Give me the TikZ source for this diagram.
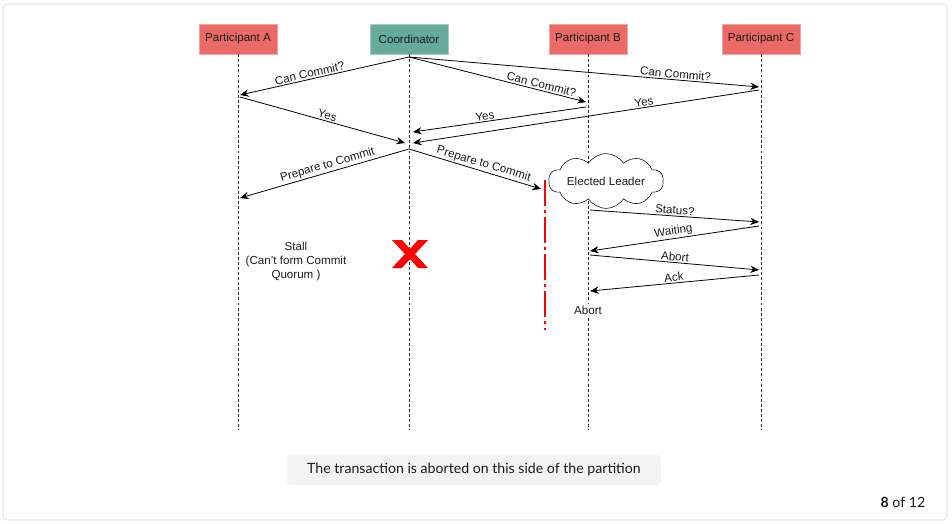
\documentclass[tikz,border=0pt]{standalone}
\usepackage{fontspec}
\setmainfont{Liberation Sans}
\newfontfamily\captionfont{Lato}
\usepackage{tikz}
\usetikzlibrary{positioning,arrows.meta,shapes.symbols}

\definecolor{boxred}{HTML}{EA6B66}
\definecolor{boxgreen}{HTML}{67AB9F}
\definecolor{framegray}{HTML}{D4D4D4}
\definecolor{notegray}{HTML}{F3F3F3}
\definecolor{txt}{HTML}{1A1A1A}

\begin{document}
\begin{tikzpicture}[
        x=0.75pt, y=-0.75pt,
        font=\fontsize{8.7}{10.5}\selectfont, text=txt,
        actor/.style={fill=boxred, draw=boxred!60, minimum width=58.5pt, minimum height=22.5pt, inner sep=0pt},
        lifeline/.style={dash pattern=on 2.2pt off 1.6pt, thin, black!85},
        msg/.style={-{Stealth[length=6.5pt, width=5.5pt]}, semithick},
        lbl/.style={sloped, above, inner sep=1pt},
        partition/.style={red, line width=2.2pt, dash pattern=on 19.5pt off 3pt on 2.25pt off 3pt}
    ]
    \useasboundingbox (0,0) rectangle (952,524);

    % frame of the slide
    \draw[framegray, rounded corners=3pt] (3,4) rectangle (947,520);

    % participants
    \node[actor] (pa) at (238,39) {Participant A};
    \node[actor, fill=boxgreen, draw=boxgreen!60] (co) at (409,39) {Coordinator};
    \node[actor] (pb) at (588,39) {Participant B};
    \node[actor] (pc) at (761,39) {Participant C};

    % lifelines
    \foreach \p/\x in {pa/238, co/409, pb/588, pc/761} {
        \coordinate (\p end) at (\x,430);
        \draw[lifeline] (\p.south) -- (\p end);
    }

    % points on the lifelines
    \coordinate (co1) at (409,57);
    \coordinate (a1) at (240,95);
    \coordinate (a2) at (240,97);
    \coordinate (b1) at (586,102);
    \coordinate (b2) at (586,107);
    \coordinate (c1) at (759,87);
    \coordinate (c2) at (759,90);
    \coordinate (co2) at (405,143);
    \coordinate (co3) at (413,132);
    \coordinate (co4) at (413,143);
    \coordinate (co5) at (409,149);
    \coordinate (a3) at (240,198);
    \coordinate (cut) at (541,189);

    % phase one: can commit
    \draw[msg] (co1) -- node[lbl, pos=0.58] {Can Commit?} (a1);
    \draw[msg] (co1) -- node[lbl, pos=0.74] {Can Commit?} (b1);
    \draw[msg] (co1) -- node[lbl, pos=0.76] {Can Commit?} (c1);

    % votes
    \draw[msg] (a2) -- node[lbl, pos=0.52] {Yes} (co2);
    \draw[msg] (b2) -- node[lbl, pos=0.58] {Yes} (co3);
    \draw[msg] (c2) -- node[lbl, pos=0.33] {Yes} (co4);

    % phase two: prepare
    \draw[msg] (co5) -- node[lbl, pos=0.47] {Prepare to Commit} (a3);
    \draw[msg] (co5) -- node[lbl, pos=0.55] {Prepare to Commit} (cut);

    % network partition
    \coordinate (parttop) at (545,180);
    \coordinate (partbot) at (545,330);
    \draw[partition] (parttop) -- (partbot);

    % coordinator crash
    \node (crash) at (410,254) {};
    \fill[red, shift={(crash.center)}] (-18,-14) -- (-8,-14) -- (0,-5) -- (8,-14) -- (18,-14) -- (5,0)
        -- (18,14) -- (8,14) -- (0,5) -- (-8,14) -- (-18,14) -- (-5,0) -- cycle;

    \node[align=center] (stall) at (296,261) {Stall\\(Can't form Commit\\Quorum )};

    % recovery on the B/C side
    \node[cloud, draw, fill=white, cloud puffs=10, cloud puff arc=115, aspect=2.9,
          minimum width=86pt, minimum height=31pt, inner sep=0pt] (leader) at (606,181) {Elected Leader};

    \coordinate (b3) at (590,210);
    \coordinate (c3) at (759,222);
    \coordinate (c4) at (759,226);
    \coordinate (b4) at (590,251);
    \coordinate (b5) at (590,255);
    \coordinate (c5) at (759,270);
    \coordinate (c6) at (759,275);
    \coordinate (b6) at (590,291);

    \draw[msg] (b3) -- node[lbl] {Status?} (c3);
    \draw[msg] (c4) -- node[lbl] {Waiting} (b4);
    \draw[msg] (b5) -- node[lbl] {Abort} (c5);
    \draw[msg] (c6) -- node[lbl] {Ack} (b6);

    \node[fill=white, inner sep=1pt] (abort) at (588,310) {Abort};

    % caption and page counter
    \node[fill=notegray, rounded corners=3pt, minimum width=280.5pt, minimum height=22.5pt,
          font=\captionfont\fontsize{10.6}{12}\selectfont] (note) at (474,470)
          {The transaction is aborted on this side of the partition};
    \node[font=\captionfont\fontsize{10.6}{12}\selectfont, anchor=east] (page) at (930,502) {\textbf{8} of 12};

\end{tikzpicture}
\end{document}
